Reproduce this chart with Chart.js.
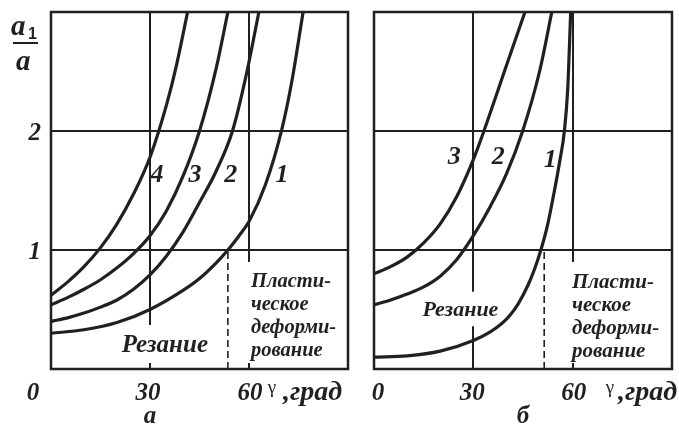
<!DOCTYPE html>
<html><head><meta charset="utf-8">
<script src="https://cdn.jsdelivr.net/npm/chart.js@4/dist/chart.umd.min.js"></script>
<style>
body{margin:0;background:#fff;width:679px;height:427px;overflow:hidden}
canvas{position:absolute;left:0;top:0}
</style>
</head><body>
<canvas id="ca" width="679" height="427"></canvas>
<canvas id="cb" width="679" height="427"></canvas>
<script>
// ---------- data ----------
const xTickValues = [0, 30, 60];
const yTickValues = [1, 2];
const xAxisName = 'γ';
const xAxisUnit = ',град';
const panelNames = ['а', 'б'];

// panel а : gamma (deg) -> a1/a
const a1X = [0, 10, 20, 30, 40, 45, 50, 53.6, 57, 60, 65, 70, 73, 76.4];
const a1Y = [0.30, 0.33, 0.39, 0.50, 0.66, 0.76, 0.89, 1.0, 1.12, 1.24, 1.55, 2.02, 2.42, 3.0];
const a2X = [0, 5, 10, 15, 20, 25, 30, 35, 40, 45, 50, 55, 59, 63];
const a2Y = [0.40, 0.43, 0.47, 0.52, 0.58, 0.67, 0.79, 0.95, 1.15, 1.40, 1.66, 2.0, 2.45, 3.0];
const a3X = [0, 5, 10, 15, 20, 25, 30, 35, 40, 45, 50, 53.6];
const a3Y = [0.54, 0.60, 0.67, 0.75, 0.85, 0.97, 1.12, 1.33, 1.62, 2.0, 2.52, 3.0];
const a4X = [0, 5, 10, 15, 20, 25, 30, 35, 38, 41.4];
const a4Y = [0.62, 0.73, 0.86, 1.02, 1.22, 1.47, 1.78, 2.22, 2.55, 3.0];
const aCurveNames = ['1', '2', '3', '4'];

// panel б
const b1X = [0, 10, 20, 30, 35, 38.5, 41, 43.6, 46.6, 48.5, 50.4, 52.5, 54.5, 56, 57.5, 58.5, 59.4];
const b1Y = [0.10, 0.11, 0.15, 0.24, 0.31, 0.38, 0.45, 0.55, 0.71, 0.84, 1.0, 1.22, 1.50, 1.73, 2.0, 2.35, 3.0];
const b2X = [0, 5, 10, 15, 20, 25, 30, 35, 40, 44.9, 50, 53.7];
const b2Y = [0.54, 0.58, 0.63, 0.69, 0.78, 0.92, 1.12, 1.36, 1.64, 2.0, 2.5, 3.0];
const b3X = [0, 5, 10, 15, 20, 25, 30, 33.2, 40, 45.6];
const b3Y = [0.80, 0.86, 0.94, 1.06, 1.22, 1.45, 1.76, 2.0, 2.55, 3.0];
const bCurveNames = ['1', '2', '3'];

// boundary between cutting and plastic deformation (gamma at a1/a = 1)
const aBoundary = 53.6;
const bBoundary = 51.4;
const regionCut = 'Резание';
const regionPlastic = ['Пласти-', 'ческое', 'деформи-', 'рование'];

// ---------- drawing ----------
const INK = '#231f20';
const SERIF = '"Liberation Serif","Times New Roman",serif';

function pts(xs, ys) { return xs.map((x, i) => ({x: x, y: ys[i]})); }

function makePanel(id, pad, series, names, cfg) {
  const datasets = series.map((s, i) => ({
    label: names[i], data: pts(s[0], s[1]),
    borderColor: INK, borderWidth: 3.2, pointRadius: 0,
    cubicInterpolationMode: 'monotone', fill: false
  }));
  const deco = {
    id: 'deco' + id,
    beforeDatasetsDraw(chart) {
      const c = chart.ctx, xs = chart.scales.x, ys = chart.scales.y, ca = chart.chartArea;
      c.save();
      c.strokeStyle = INK; c.lineCap = 'butt';
      c.lineWidth = 2;
      yTickValues.forEach(v => {
        const y = Math.round(ys.getPixelForValue(v));
        c.beginPath(); c.moveTo(ca.left, y); c.lineTo(ca.right, y); c.stroke();
      });
      cfg.vSegs.forEach(s => {
        const x = Math.round(xs.getPixelForValue(s[0]));
        c.beginPath(); c.moveTo(x, ys.getPixelForValue(s[1])); c.lineTo(x, ys.getPixelForValue(s[2])); c.stroke();
      });
      c.lineWidth = 1.6; c.setLineDash([7, 4]);
      const xd = xs.getPixelForValue(cfg.boundary);
      c.beginPath(); c.moveTo(xd, ys.getPixelForValue(1) + 2); c.lineTo(xd, ca.bottom); c.stroke();
      c.restore();
    },
    afterDatasetsDraw(chart) {
      const c = chart.ctx, xs = chart.scales.x, ys = chart.scales.y, ca = chart.chartArea;
      c.save();
      c.strokeStyle = INK; c.lineWidth = 2.5;
      c.strokeRect(ca.left, ca.top, ca.right - ca.left, ca.bottom - ca.top);
      c.fillStyle = INK;
      // x tick labels
      c.font = 'italic bold 25px ' + SERIF;
      c.textAlign = 'center'; c.textBaseline = 'alphabetic';
      xTickValues.forEach((v, i) => c.fillText(String(v), xs.getPixelForValue(v) + cfg.xTickDx[i], 400));
      // axis name
      c.font = '19px ' + SERIF;
      c.fillText(xAxisName, cfg.gammaX, 393);
      c.font = 'italic bold 28px ' + SERIF;
      c.textAlign = 'left';
      c.fillText(xAxisUnit, cfg.unitX, 400);
      // panel caption
      c.font = 'italic bold 25px ' + SERIF;
      c.textAlign = 'center';
      c.fillText(cfg.caption, cfg.captionX, 423);
      // curve labels
      c.font = 'italic bold 26px ' + SERIF;
      cfg.curveLabels.forEach(l => c.fillText(l[0], xs.getPixelForValue(l[1]), ys.getPixelForValue(l[2])));
      // region labels
      c.font = 'italic bold ' + cfg.cutSize + 'px ' + SERIF;
      c.fillText(regionCut, xs.getPixelForValue(cfg.cutPos[0]), ys.getPixelForValue(cfg.cutPos[1]));
      c.font = 'italic bold ' + cfg.plasticSize + 'px ' + SERIF;
      c.textAlign = 'left';
      regionPlastic.forEach((t, i) => c.fillText(t, cfg.plasticX, cfg.plasticY + i * 23));
      // y axis
      if (cfg.yAxis) {
        c.font = 'italic bold 25px ' + SERIF;
        c.textAlign = 'right';
        yTickValues.forEach(v => c.fillText(String(v), ca.left - 10, ys.getPixelForValue(v) + 9));
        c.textAlign = 'left';
        c.font = 'italic bold 29px ' + SERIF;
        c.fillText('a', 11, 35);
        c.fillText('a', 16, 70);
        c.font = 'bold 16px "Liberation Sans",Arial,sans-serif';
        c.fillText('1', 28, 39);
        c.lineWidth = 2;
        c.beginPath(); c.moveTo(13, 43); c.lineTo(38, 43); c.stroke();
      }
      c.restore();
    }
  };
  return new Chart(document.getElementById(id), {
    type: 'line',
    data: {datasets: datasets},
    options: {
      responsive: false, animation: false, devicePixelRatio: 1,
      layout: {padding: pad},
      plugins: {legend: {display: false}, tooltip: {enabled: false}},
      scales: {
        x: {type: 'linear', min: 0, max: 90, display: false},
        y: {type: 'linear', min: 0, max: 3, display: false}
      }
    },
    plugins: [deco]
  });
}

makePanel('ca', {left: 51, top: 12, right: 331, bottom: 58},
  [[a1X, a1Y], [a2X, a2Y], [a3X, a3Y], [a4X, a4Y]], aCurveNames, {
    vSegs: [[30, 3, 0.37], [30, 0.05, 0], [60, 3, 0.9], [60, 0.05, 0]],
    boundary: aBoundary,
    xTickDx: [-18, -2, 1],
    gammaX: 272, unitX: 283,
    caption: panelNames[0], captionX: 150,
    curveLabels: [['1', 70, 1.57], ['2', 54.5, 1.57], ['3', 43.6, 1.57], ['4', 32.1, 1.57]],
    cutSize: 25, cutPos: [34.5, 0.14],
    plasticSize: 20.5, plasticX: 251, plasticY: 287,
    yAxis: true
  });

makePanel('cb', {left: 374, top: 12, right: 7, bottom: 58},
  [[b1X, b1Y], [b2X, b2Y], [b3X, b3Y]], bCurveNames, {
    vSegs: [[30, 3, 0.65], [30, 0.36, 0], [60, 3, 0.9], [60, 0.05, 0]],
    boundary: bBoundary,
    xTickDx: [4, -1, 1],
    gammaX: 610, unitX: 618,
    caption: panelNames[1], captionX: 523,
    curveLabels: [['1', 53.2, 1.70], ['2', 37.5, 1.72], ['3', 24.2, 1.72]],
    cutSize: 22, cutPos: [26.1, 0.445],
    plasticSize: 21, plasticX: 572, plasticY: 288,
    yAxis: false
  });
</script>
</body></html>
